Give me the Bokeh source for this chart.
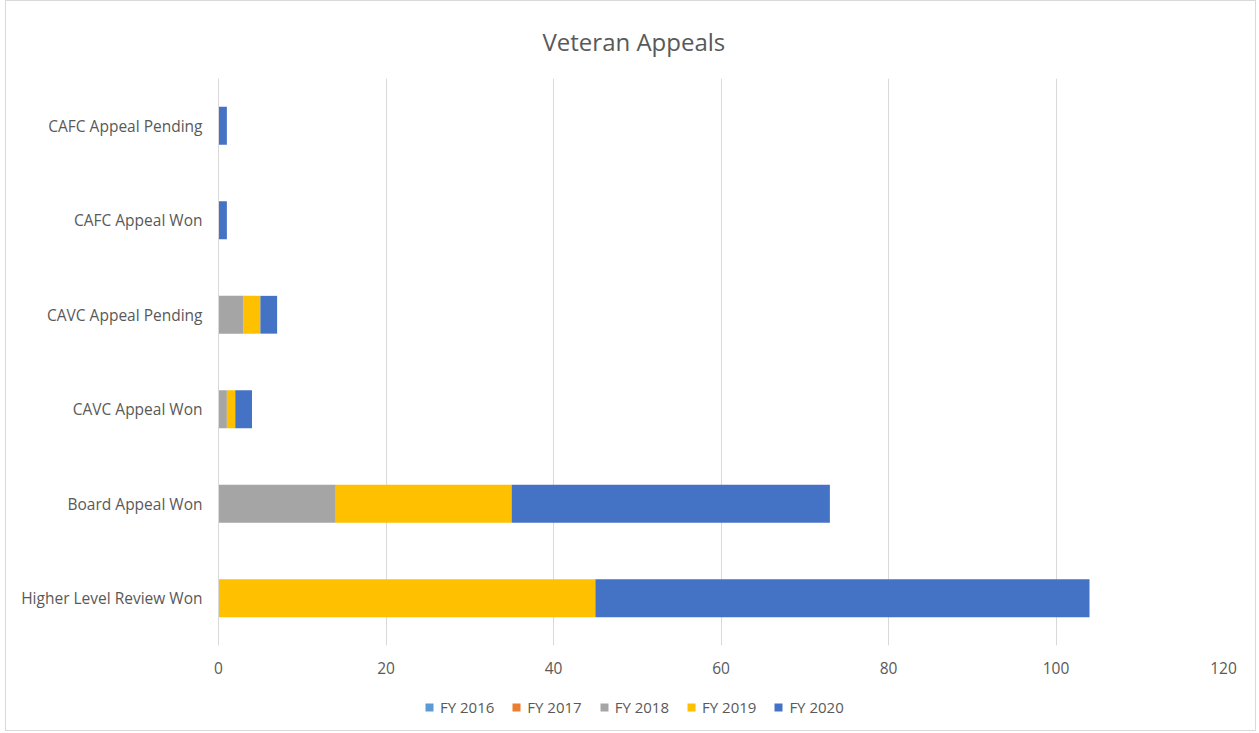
from bokeh.plotting import figure
from bokeh.models import FactorRange, Range1d, Legend, LegendItem, ColumnDataSource, FixedTicker
from bokeh.layouts import column
from bokeh.embed import file_html
from bokeh.resources import INLINE

categories = ["Higher Level Review Won", "Board Appeal Won", "CAVC Appeal Won",
              "CAVC Appeal Pending", "CAFC Appeal Won", "CAFC Appeal Pending"]
fy2016 = [0, 0, 0, 0, 0, 0]
fy2017 = [0, 0, 0, 0, 0, 0]
fy2018 = [0, 14, 1, 3, 0, 0]
fy2019 = [45, 21, 1, 2, 0, 0]
fy2020 = [59, 38, 2, 2, 1, 1]
series_names = ["FY 2016", "FY 2017", "FY 2018", "FY 2019", "FY 2020"]
series_keys = ["fy2016", "fy2017", "fy2018", "fy2019", "fy2020"]
colors = ["#5B9BD5", "#ED7D31", "#A5A5A5", "#FFC000", "#4472C4"]
x_ticks = [0, 20, 40, 60, 80, 100, 120]

source = ColumnDataSource(dict(cat=categories, fy2016=fy2016, fy2017=fy2017,
                               fy2018=fy2018, fy2019=fy2019, fy2020=fy2020))

TXT = "#595959"
FONT = "Open Sans"

p = figure(frame_width=1005, frame_height=567, output_backend="svg", toolbar_location=None,
           y_range=FactorRange(factors=categories, range_padding=0),
           x_range=Range1d(0, 120),
           min_border_left=212, min_border_right=32, min_border_top=77, min_border_bottom=45)

renderers = p.hbar_stack(series_keys, y="cat", height=0.4, color=colors, source=source,
                         line_color=None)

p.title.text = "Veteran Appeals"
p.title.align = "left"
p.title.offset = 324
p.title.text_font = FONT
p.title.text_font_size = "24px"
p.title.text_font_style = "normal"
p.title.text_color = TXT
p.title.standoff = 42

p.outline_line_color = None
p.ygrid.grid_line_color = None
p.xgrid.grid_line_color = "#d9d9d9"
p.xgrid.grid_line_width = 1

p.xaxis.ticker = FixedTicker(ticks=x_ticks)
p.xaxis.axis_line_color = None
p.xaxis.major_tick_line_color = None
p.xaxis.minor_tick_line_color = None
p.xaxis.major_label_standoff = 10
p.xaxis.major_label_text_font = FONT
p.xaxis.major_label_text_font_size = "15.5px"
p.xaxis.major_label_text_color = TXT

p.yaxis.axis_line_color = "#d9d9d9"
p.yaxis.major_tick_line_color = None
p.yaxis.minor_tick_line_color = None
p.yaxis.major_label_standoff = 10
p.yaxis.major_label_text_font = FONT
p.yaxis.major_label_text_font_size = "15.5px"
p.yaxis.major_label_text_color = TXT

# legend strip below the chart (legend swatches use off-screen stand-in glyphs)
q = figure(width=1249, height=40, output_backend="svg", toolbar_location=None,
           x_range=Range1d(0, 1), y_range=Range1d(0, 1), min_border=0)
q.axis.visible = False
q.grid.visible = False
q.outline_line_color = None
dummies = [q.hbar(y=[-10], right=[0], height=0.4, color=c, line_color=None) for c in colors]

legend = Legend(items=[LegendItem(label=n, renderers=[r]) for n, r in zip(series_names, dummies)],
                orientation="horizontal", location=(206, 13),
                label_text_font=FONT, label_text_font_size="15px", label_text_color=TXT,
                glyph_width=10, glyph_height=10, spacing=17, label_standoff=6,
                border_line_color=None, background_fill_alpha=0, padding=0, margin=0)
q.add_layout(legend, "center")

layout = column(p, q, spacing=0,
                styles={"border": "1px solid #d9d9d9", "margin-left": "5px", "margin-top": "0px"})

open("out.html", "w").write(file_html(layout, INLINE))
